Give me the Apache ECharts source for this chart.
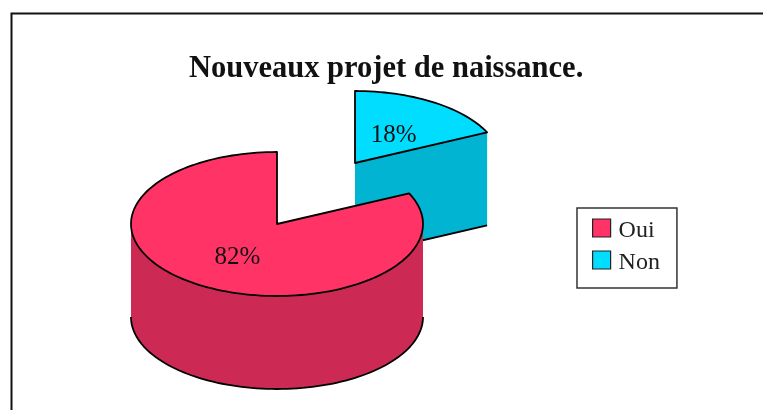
<!DOCTYPE html>
<html><head><meta charset="utf-8">
<style>html,body{margin:0;padding:0;background:#fff}#c{width:763px;height:410px}</style>
<script src="https://cdn.jsdelivr.net/npm/echarts@6/dist/echarts.min.js"></script>
</head><body><div id="c"></div>
<script>
var titleText = 'Nouveaux projet de naissance.';
var categories = ['Oui', 'Non'];
var values = [82, 18];
var topColors = ['#ff3366', '#00ddff'];
var sideColors = ['#cc2a54', '#00b4d2'];
var drawOrder = [1, 0];
var pieLayout = [{cx: 277, cy: 224}, {cx: 355, cy: 163}];
var RX = 146, RY = 72, DEPTH = 93;

var total = values.reduce(function (a, b) { return a + b; }, 0);
function startAngle(i) { return i === 1 ? 0 : values[1] / total * 360; }
function pt(c, deg, dy) {
  var r = deg * Math.PI / 180;
  return [c.cx + RX * Math.sin(r), c.cy - RY * Math.cos(r) + (dy || 0)];
}
function arcPts(c, a0, a1, dy) {
  var out = [], n = Math.max(2, Math.ceil((a1 - a0) / 2));
  for (var k = 0; k <= n; k++) out.push(pt(c, a0 + (a1 - a0) * k / n, dy));
  return out;
}
function makeRender(i) {
  return function (params, api) {
    var c = pieLayout[i];
    var v = api.value(0);
    var a0 = startAngle(i), a1 = a0 + v / total * 360;
    var line = {stroke: '#000', lineWidth: 1.8, fill: null, lineJoin: 'round'};
    var kids = [];
    var f0 = Math.max(a0, 90), f1 = Math.min(a1, 270);
    if (f1 > f0) {
      var up = arcPts(c, f0, f1, 0), low = arcPts(c, f0, f1, DEPTH);
      kids.push({type: 'polygon', shape: {points: up.concat(low.slice().reverse())}, style: {fill: sideColors[i]}});
      kids.push({type: 'polyline', shape: {points: low}, style: line});
    }
    if (a1 < 180) {
      var e = pt(c, a1, 0), e2 = pt(c, a1, DEPTH);
      kids.push({type: 'polygon', shape: {points: [[c.cx, c.cy], e, e2, [c.cx, c.cy + DEPTH]]}, style: {fill: sideColors[i]}});
      kids.push({type: 'line', shape: {x1: c.cx, y1: c.cy + DEPTH, x2: e2[0], y2: e2[1]}, style: {stroke: '#000', lineWidth: 1.8}});
    }
    var top = [[c.cx, c.cy]].concat(arcPts(c, a0, a1, 0));
    kids.push({type: 'polygon', shape: {points: top}, style: {fill: topColors[i], stroke: '#000', lineWidth: 1.8, lineJoin: 'round'}});
    var mid = (a0 + a1) / 2 * Math.PI / 180;
    kids.push({type: 'text', x: c.cx + 0.5 * RX * Math.sin(mid) - 0.5, y: c.cy - 0.5 * RY * Math.cos(mid) + 3,
      style: {text: Math.round(v / total * 100) + '%', fill: '#111', font: '25px "Liberation Serif"', align: 'center', verticalAlign: 'middle'}});
    return {type: 'group', children: kids};
  };
}
var series = drawOrder.map(function (i) {
  return {type: 'custom', name: categories[i], coordinateSystem: 'none', data: [[values[i]]],
    renderItem: makeRender(i), itemStyle: {color: topColors[i]}, silent: true, animation: false, clip: false,
    encode: {value: 0}};
});
var chart = echarts.init(document.getElementById('c'), null, {renderer: 'canvas'});
chart.setOption({
  animation: false,
  backgroundColor: '#ffffff',
  title: {text: titleText, left: 189, top: 54, padding: 0,
    textStyle: {fontFamily: 'Liberation Serif', fontWeight: 'bold', fontSize: 30.5, color: '#111', overflow: 'none'}},
  legend: {
    data: categories, orient: 'vertical', left: 577, top: 208, selectedMode: false,
    backgroundColor: '#fff', borderColor: '#333', borderWidth: 1.5, borderRadius: 0,
    padding: [5, 17, 13, 15], itemWidth: 18, itemHeight: 18, itemGap: 2, icon: 'rect',
    itemStyle: {borderColor: '#222', borderWidth: 1.2},
    formatter: function (name) { return '{t|' + name + '}'; },
    textStyle: {
      fontFamily: 'Liberation Serif', fontSize: 24, color: '#222',
      rich: {t: {fontFamily: 'Liberation Serif', fontSize: 24, lineHeight: 22, color: '#222', padding: [6, 0, 0, 3]}}
    }
  },
  graphic: [{type: 'polyline', silent: true, shape: {points: [[11.5, 410], [11.5, 13.5], [763, 13.5]]}, style: {stroke: '#111', lineWidth: 2, fill: null}}],
  series: series
});
</script></body></html>
